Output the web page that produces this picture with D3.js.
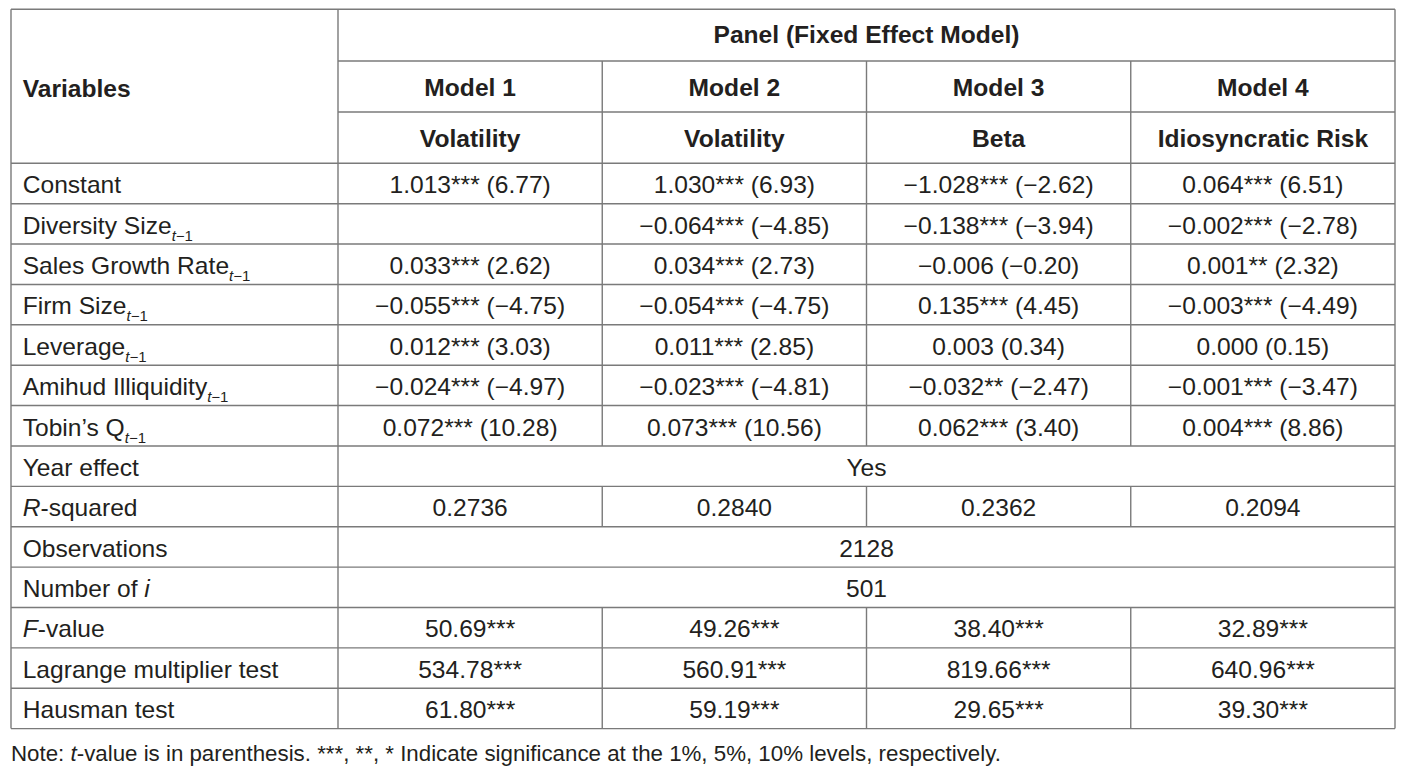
<!DOCTYPE html>
<html>
<head>
<meta charset="utf-8">
<script src="https://cdn.jsdelivr.net/npm/d3@7"></script>
<style>
  html, body { margin: 0; padding: 0; background: #fff; }
  svg { display: block; }
</style>
</head>
<body>
<svg id="chart" width="1415" height="773"></svg>
<script>
// ---------- DATA ----------
const panelTitle = "Panel (Fixed Effect Model)";
const models = ["Model 1", "Model 2", "Model 3", "Model 4"];
const dependents = ["Volatility", "Volatility", "Beta", "Idiosyncratic Risk"];
const variables = ["Constant", "Diversity Size", "Sales Growth Rate", "Firm Size", "Leverage", "Amihud Illiquidity", "Tobin’s Q"];
const lagged = [false, true, true, true, true, true, true];

const coefModel1 = [1.013, null, 0.033, -0.055, 0.012, -0.024, 0.072];
const tModel1    = [6.77, null, 2.62, -4.75, 3.03, -4.97, 10.28];
const starsModel1 = [3, 0, 3, 3, 3, 3, 3];

const coefModel2 = [1.030, -0.064, 0.034, -0.054, 0.011, -0.023, 0.073];
const tModel2    = [6.93, -4.85, 2.73, -4.75, 2.85, -4.81, 10.56];
const starsModel2 = [3, 3, 3, 3, 3, 3, 3];

const coefModel3 = [-1.028, -0.138, -0.006, 0.135, 0.003, -0.032, 0.062];
const tModel3    = [-2.62, -3.94, -0.20, 4.45, 0.34, -2.47, 3.40];
const starsModel3 = [3, 3, 0, 3, 0, 2, 3];

const coefModel4 = [0.064, -0.002, 0.001, -0.003, 0.000, -0.001, 0.004];
const tModel4    = [6.51, -2.78, 2.32, -4.49, 0.15, -3.47, 8.86];
const starsModel4 = [3, 3, 2, 3, 0, 3, 3];

const yearEffect = "Yes";
const rSquared = [0.2736, 0.2840, 0.2362, 0.2094];
const observations = 2128;
const numberOfI = 501;
const fValue = [50.69, 49.26, 38.40, 32.89];
const fStars = [3, 3, 3, 3];
const lagrange = [534.78, 560.91, 819.66, 640.96];
const lagrangeStars = [3, 3, 3, 3];
const hausman = [61.80, 59.19, 29.65, 39.30];
const hausmanStars = [3, 3, 3, 3];

const noteText = [
  {t: "Note: "}, {t: "t", i: true},
  {t: "-value is in parenthesis. ***, **, * Indicate significance at the 1%, 5%, 10% levels, respectively."}
];

// ---------- LAYOUT ----------
const svg = d3.select("#chart");
const FONT = "'Liberation Sans', Arial, Helvetica, sans-serif";
const FS = 23, SX = 1.07;
const INK = "#231f20", RULE = "#7a7a7a";

const tblLeft = 11, labelRight = 338, tblRight = 1395;
const tblTop = 9.3, headerBottom = 163.3, tblBottom = 728.6;

const x = d3.scaleBand().domain(models).range([labelRight, tblRight]).padding(0);
const headerY = d3.scaleOrdinal().domain(["panel", "model", "dep", "end"]).range([tblTop, 61, 112, headerBottom]);

const fmt3 = d3.format(".3f"), fmt2 = d3.format(".2f"), fmt4 = d3.format(".4f");
const st = n => "*".repeat(n);

const coefs = [coefModel1, coefModel2, coefModel3, coefModel4];
const tvals = [tModel1, tModel2, tModel3, tModel4];
const stars = [starsModel1, starsModel2, starsModel3, starsModel4];

// Build rows
const rows = [];
variables.forEach((v, i) => {
  rows.push({
    label: [{t: v}].concat(lagged[i] ? [{t: "t", i: true, sub: true}, {t: "−1", sub: true}] : []),
    cells: models.map((m, j) => coefs[j][i] == null ? "" :
      fmt3(coefs[j][i]) + st(stars[j][i]) + " (" + fmt2(tvals[j][i]) + ")")
  });
});
rows.push({label: [{t: "Year effect"}], span: yearEffect});
rows.push({label: [{t: "R", i: true}, {t: "-squared"}], cells: rSquared.map(fmt4)});
rows.push({label: [{t: "Observations"}], span: String(observations)});
rows.push({label: [{t: "Number of "}, {t: "i", i: true}], span: String(numberOfI)});
rows.push({label: [{t: "F", i: true}, {t: "-value"}], cells: fValue.map((v, j) => fmt2(v) + st(fStars[j]))});
rows.push({label: [{t: "Lagrange multiplier test"}], cells: lagrange.map((v, j) => fmt2(v) + st(lagrangeStars[j]))});
rows.push({label: [{t: "Hausman test"}], cells: hausman.map((v, j) => fmt2(v) + st(hausmanStars[j]))});

const y = d3.scaleBand().domain(d3.range(rows.length)).range([headerBottom, tblBottom]).padding(0);

// ---------- TEXT HELPER ----------
function addText(g, px, py, segs, anchor, bold, fs = FS, sx = SX) {
  const t = g.append("text")
    .attr("transform", `translate(${px},${py}) scale(${sx},1)`)
    .attr("text-anchor", anchor)
    .attr("font-family", FONT)
    .attr("font-size", fs)
    .attr("font-weight", bold ? "bold" : "normal")
    .attr("fill", INK);
  let subOn = false;
  segs.forEach(s => {
    const ts = t.append("tspan").text(s.t);
    if (s.i) ts.attr("font-style", "italic");
    if (s.sub && !subOn) { ts.attr("dy", 7); subOn = true; }
    if (s.sub) ts.attr("font-size", 14);
  });
  return t;
}

// ---------- BACKGROUND ----------
svg.append("rect").attr("width", 1415).attr("height", 773).attr("fill", "#fff");

// ---------- RULES ----------
const rules = svg.append("g").attr("stroke", RULE).attr("stroke-width", 1.4).attr("fill", "none");
const hline = (x1, x2, yy) => rules.append("line").attr("x1", x1).attr("x2", x2).attr("y1", yy).attr("y2", yy);
const vline = (xx, y1, y2) => rules.append("line").attr("x1", xx).attr("x2", xx).attr("y1", y1).attr("y2", y2);

hline(tblLeft, tblRight, headerY("panel"));
hline(labelRight, tblRight, headerY("model"));
hline(labelRight, tblRight, headerY("dep"));
rows.forEach((r, i) => hline(tblLeft, tblRight, y(i)));
hline(tblLeft, tblRight, tblBottom);

vline(tblLeft, tblTop, tblBottom);
vline(labelRight, tblTop, tblBottom);
vline(tblRight, tblTop, tblBottom);
models.slice(1).forEach(m => vline(x(m), headerY("model"), headerBottom));
rows.forEach((r, i) => {
  if (!r.span) models.slice(1).forEach(m => vline(x(m), y(i), y(i) + y.bandwidth()));
});

// ---------- HEADER TEXT ----------
const txt = svg.append("g");
addText(txt, tblLeft + 11.7, 96.5, [{t: "Variables"}], "start", true);
addText(txt, (labelRight + tblRight) / 2, 42.7, [{t: panelTitle}], "middle", true);
models.forEach((m, j) => addText(txt, x(m) + x.bandwidth() / 2, 95.7, [{t: m}], "middle", true));
dependents.forEach((d, j) => addText(txt, x(models[j]) + x.bandwidth() / 2, 146.7, [{t: d}], "middle", true));

// ---------- BODY TEXT ----------
rows.forEach((r, i) => {
  const by = y(i) + 30;
  addText(txt, tblLeft + 11.7, by, r.label, "start", false);
  if (r.span) {
    addText(txt, (labelRight + tblRight) / 2, by, [{t: r.span}], "middle", false);
  } else {
    r.cells.forEach((c, j) => {
      if (c) addText(txt, x(models[j]) + x.bandwidth() / 2, by, [{t: c}], "middle", false);
    });
  }
});

// ---------- NOTE ----------
addText(txt, tblLeft, 760.5, noteText, "start", false, 22.3, 1);
</script>
</body>
</html>
